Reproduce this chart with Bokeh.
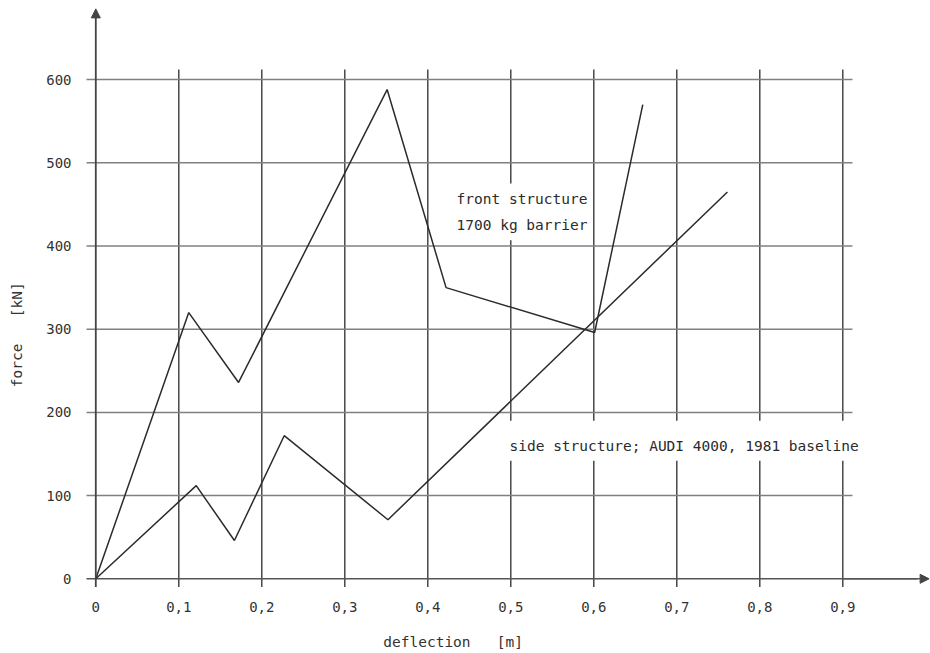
import math
from bokeh.plotting import figure
from bokeh.models import Range1d, Label, Arrow, NormalHead
from bokeh.embed import file_html
from bokeh.resources import INLINE

# ---- data ----
x_ticks = [0, 0.1, 0.2, 0.3, 0.4, 0.5, 0.6, 0.7, 0.8, 0.9]
x_tick_labels = ["0", "0,1", "0,2", "0,3", "0,4", "0,5", "0,6", "0,7", "0,8", "0,9"]
y_ticks = [0, 100, 200, 300, 400, 500, 600]
y_tick_labels = ["0", "100", "200", "300", "400", "500", "600"]

front_x = [0.0, 0.112, 0.172, 0.351, 0.422, 0.601, 0.659]
front_y = [0, 320, 236, 588, 350, 296, 570]

side_x = [0.0, 0.121, 0.167, 0.227, 0.352, 0.761]
side_y = [0, 112, 46, 172, 71, 465]

front_text = ["front structure", "1700 kg barrier"]
side_text = "side structure; AUDI 4000, 1981 baseline"
NB = "\u00a0"
x_title = "deflection" + NB * 3 + "[m]"
y_title = "force" + NB * 3 + "[kN]"

FONT = "DejaVu Sans Mono"
INK = "#2b2b2b"

p = figure(width=930, height=653,
           x_range=Range1d(-0.01843, 1.00566), y_range=Range1d(-14.06, 695.07),
           min_border_left=80, min_border_right=0, min_border_top=0, min_border_bottom=63,
           toolbar_location=None, output_backend="svg",
           outline_line_color=None, background_fill_color="white",
           border_fill_color="white")
p.grid.visible = False

for ax in (p.xaxis[0], p.yaxis[0]):
    ax.axis_line_color = None
    ax.major_tick_line_color = None
    ax.minor_tick_line_color = None
    ax.major_tick_out = 0
    ax.major_tick_in = 0
    ax.major_label_text_font = FONT
    ax.major_label_text_font_size = "14px"
    ax.major_label_text_color = "#333333"
    ax.axis_label_text_font = FONT
    ax.axis_label_text_font_size = "14.5px"
    ax.axis_label_text_font_style = "normal"
    ax.axis_label_text_color = "#333333"

p.xaxis.ticker = x_ticks
p.xaxis.major_label_overrides = {t: s for t, s in zip(x_ticks, x_tick_labels)}
p.xaxis.major_label_standoff = 11
p.yaxis.ticker = y_ticks
p.yaxis.major_label_overrides = {t: s for t, s in zip(y_ticks, y_tick_labels)}
p.yaxis.major_label_standoff = 9

# axis titles (trailing no-break spaces shift the centred title to where the reference has it)
p.xaxis.axis_label = x_title + NB * 12
p.xaxis.axis_label_standoff = 19
p.yaxis.axis_label = y_title + NB * 9
p.yaxis.axis_label_standoff = 18

# grid lines drawn from the tick arrays
vx = x_ticks[1:]
p.segment(x0=vx, y0=[-10] * len(vx), x1=vx, y1=[612] * len(vx),
          line_color="#3a3a3a", line_width=1.4)
hy = y_ticks[1:]
p.segment(x0=[-0.0112] * len(hy), y0=hy, x1=[0.9116] * len(hy), y1=hy,
          line_color="#808080", line_width=1.5)

# axes with arrows
p.segment(x0=[-0.0112], y0=[0], x1=[0.99], y1=[0], line_color="#555555", line_width=1.5)
p.add_layout(Arrow(end=NormalHead(size=9, fill_color="#444444", line_color="#444444"),
                   x_start=0.9, y_start=0, x_end=1.004, y_end=0,
                   line_color="#555555", line_width=1.5))
p.add_layout(Arrow(end=NormalHead(size=9, fill_color="#444444", line_color="#444444"),
                   x_start=0, y_start=-10, x_end=0, y_end=685,
                   line_color="#444444", line_width=1.8))

# data lines
p.line(front_x, front_y, line_color=INK, line_width=1.5)
p.line(side_x, side_y, line_color=INK, line_width=1.5)

# annotations
p.add_layout(Label(x=0.431, y=457, text=front_text[0], text_font=FONT, text_font_size="14.5px",
                   text_color=INK, text_baseline="middle", text_align="left",
                   background_fill_color="white", padding=dict(left=3, right=3, top=7, bottom=7)))
p.add_layout(Label(x=0.431, y=425, text=front_text[1], text_font=FONT, text_font_size="14.5px",
                   text_color=INK, text_baseline="middle", text_align="left",
                   background_fill_color="white", padding=dict(left=3, right=3, top=7, bottom=7)))
p.add_layout(Label(x=0.4936, y=166, text=side_text, text_font=FONT, text_font_size="14.5px",
                   text_color=INK, text_baseline="middle", text_align="left",
                   background_fill_color="white", padding=dict(left=4, right=4, top=17, bottom=7)))

open("out.html", "w").write(file_html(p, INLINE))
